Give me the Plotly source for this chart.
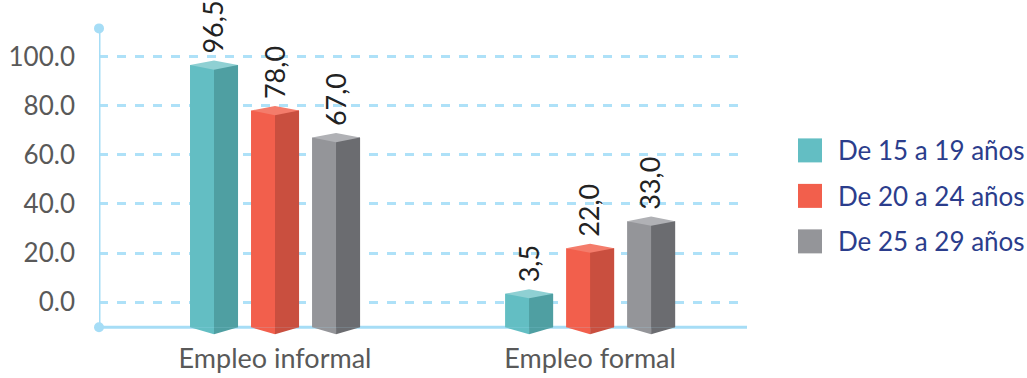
import plotly.graph_objects as go

# ---------------- data ----------------
categories = ["Empleo informal", "Empleo formal"]
series_names = ["De 15 a 19 años", "De 20 a 24 años", "De 25 a 29 años"]
values_15_19 = [96.5, 3.5]
values_20_24 = [78.0, 22.0]
values_25_29 = [67.0, 33.0]
y_tick_values = [0, 20, 40, 60, 80, 100]

series_values = [values_15_19, values_20_24, values_25_29]

# ---------------- styles ----------------
FONT = "Lato"
front_colors = ["#63bec3", "#f25f4c", "#949599"]
side_colors = ["#4f9fa2", "#c94f3f", "#6b6c70"]
top_colors = ["#8fd0d3", "#f47c6b", "#b0b1b5"]
AXIS_COLOR = "#a6ddf6"
GRID_COLOR = "#aee1f8"

# geometry (axis units)
X_MIN, X_MAX = -0.5587, 1.498
Y_MIN, Y_MAX = -14.5, 114.0
AXIS_BASE = -10.16     # floor of the 3-D chart
AXIS_TOP = 111.4
PX_PER_Y = 2.46
PITCH = 61 / 315
BAR_W = 48 / 315
FRONT_W = 24 / 315
TOP_D = 4.6 / PX_PER_Y
BOT_D = 7.0 / PX_PER_Y

cat_pos = list(range(len(categories)))

fig = go.Figure()

shapes = []
annotations = []

# baseline (behind the bars)
shapes.append(dict(type="line", xref="x", yref="y", x0=X_MIN, x1=X_MAX,
                   y0=AXIS_BASE, y1=AXIS_BASE, layer="below",
                   line=dict(color=AXIS_COLOR, width=3)))

for s, (name, vals) in enumerate(zip(series_names, series_values)):
    off = (s - 1) * PITCH - BAR_W / 2
    lengths = [v - AXIS_BASE for v in vals]
    # front face (full width, side overlays right half)
    fig.add_trace(go.Bar(
        x=cat_pos, y=lengths, base=AXIS_BASE, offset=off, width=BAR_W,
        marker=dict(color=front_colors[s], line=dict(width=0)),
        name=name, showlegend=False, hoverinfo="skip"))
    # side face
    fig.add_trace(go.Bar(
        x=cat_pos, y=lengths, base=AXIS_BASE, offset=off + FRONT_W,
        width=BAR_W - FRONT_W,
        marker=dict(color=side_colors[s], line=dict(width=0)),
        showlegend=False, hoverinfo="skip"))
    for i, v in zip(cat_pos, vals):
        xl = i + off
        xm = xl + FRONT_W
        xr = xl + BAR_W
        # top face
        shapes.append(dict(
            type="path", xref="x", yref="y", layer="above",
            path=f"M{xl},{v} L{xm},{v + TOP_D} L{xr},{v} L{xm},{v - TOP_D} Z",
            fillcolor=top_colors[s], line=dict(width=0)))
        # bottom V (front part)
        shapes.append(dict(
            type="path", xref="x", yref="y", layer="above",
            path=f"M{xl},{AXIS_BASE} L{xm},{AXIS_BASE - BOT_D} L{xm},{AXIS_BASE} Z",
            fillcolor=front_colors[s], line=dict(width=0)))
        # bottom V (side part)
        shapes.append(dict(
            type="path", xref="x", yref="y", layer="above",
            path=f"M{xm},{AXIS_BASE} L{xm},{AXIS_BASE - BOT_D} L{xr},{AXIS_BASE} Z",
            fillcolor=side_colors[s], line=dict(width=0)))
        # value label
        annotations.append(dict(
            x=i + (s - 1) * PITCH, y=v, xref="x", yref="y",
            text=f"{v:.1f}".replace(".", ","), showarrow=False,
            textangle=-90, xanchor="center", yanchor="bottom",
            yshift=9, xshift=-1,
            font=dict(family=FONT, size=27, color="#222222")))

# y-axis line with end dots
fig.add_trace(go.Scatter(
    x=[X_MIN, X_MIN], y=[AXIS_BASE, AXIS_TOP], mode="lines+markers",
    line=dict(color=AXIS_COLOR, width=3),
    marker=dict(color=AXIS_COLOR, size=10),
    cliponaxis=False, showlegend=False, hoverinfo="skip"))

# custom legend (large swatches)
PLOT_L, PLOT_W = 99, 648
PLOT_T, PLOT_H = 21.56, 316.1
legend_rows_px = [150, 195.5, 241]
for s, name in enumerate(series_names):
    yp = (PLOT_T + PLOT_H - legend_rows_px[s]) / PLOT_H
    xsq = (810 - PLOT_L) / PLOT_W
    shapes.append(dict(type="rect", xref="paper", yref="paper",
                       xsizemode="pixel", ysizemode="pixel",
                       xanchor=xsq, yanchor=yp, x0=-12, x1=12, y0=-12, y1=12,
                       fillcolor=front_colors[s], line=dict(width=0)))
    annotations.append(dict(
        x=(836 - PLOT_L) / PLOT_W, y=yp, xref="paper", yref="paper",
        text=name, showarrow=False, xanchor="left", yanchor="middle",
        font=dict(family=FONT, size=26, color="#2b3d8c")))

fig.update_layout(
    width=1027, height=378,
    margin=dict(l=PLOT_L, r=1027 - PLOT_L - PLOT_W, t=PLOT_T,
                b=378 - PLOT_T - PLOT_H, pad=0, autoexpand=False),
    paper_bgcolor="white", plot_bgcolor="white",
    barmode="overlay",
    showlegend=False,
    shapes=shapes, annotations=annotations,
    font=dict(family=FONT, size=27, color="#595959"),
    xaxis=dict(range=[X_MIN, X_MAX], tickvals=cat_pos, ticktext=categories,
               showgrid=False, zeroline=False, showline=False, ticks="",
               ticklabelstandoff=2, automargin=False,
               tickfont=dict(family=FONT, size=27, color="#595959")),
    yaxis=dict(range=[Y_MIN, Y_MAX], tickvals=y_tick_values,
               tickformat=".1f", showgrid=True, gridcolor=GRID_COLOR,
               gridwidth=3, griddash="dash", zeroline=False, showline=False,
               ticks="", ticklabelstandoff=23, automargin=False,
               tickfont=dict(family=FONT, size=26, color="#595959")),
)

fig.write_html("out.html")
